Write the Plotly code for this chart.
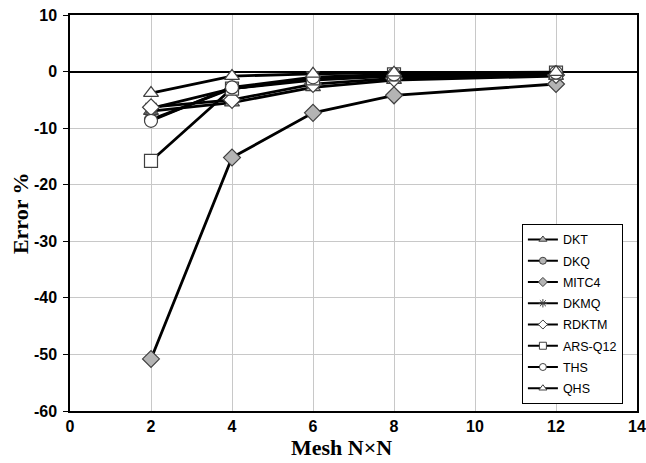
import plotly.graph_objects as go

mesh = [2, 4, 6, 8, 12]
series_names = ["DKT", "DKQ", "MITC4", "DKMQ", "RDKTM", "ARS-Q12", "THS", "QHS"]
dkt = [-7.0, -5.5, -2.8, -1.5, -0.8]
dkq = [-8.5, -3.0, -1.5, -0.8, -0.4]
mitc4 = [-50.8, -15.2, -7.3, -4.2, -2.2]
dkmq = [-6.5, -3.0, -1.3, -0.7, -0.3]
rdktm = [-6.3, -5.0, -2.2, -1.2, -0.6]
arsq12 = [-15.8, -3.0, -1.2, -0.5, -0.2]
ths = [-8.7, -2.8, -1.0, -0.5, -0.2]
qhs = [-3.8, -0.8, -0.4, -0.2, -0.1]
values = [dkt, dkq, mitc4, dkmq, rdktm, arsq12, ths, qhs]

x_ticks = [0, 2, 4, 6, 8, 10, 12, 14]
y_ticks = [10, 0, -10, -20, -30, -40, -50, -60]
x_labels = ["0", "2", "4", "6", "8", "10", "12", "14"]
y_labels = ["10", "0", "-10", "-20", "-30", "-40", "-50", "-60"]

GRAY = "#b4b4b4"
WHITE = "#ffffff"
EDGE = "#404040"
styles = [
    ("triangle-up", GRAY),
    ("circle", GRAY),
    ("diamond", GRAY),
    ("asterisk-open", EDGE),
    ("diamond", WHITE),
    ("square", WHITE),
    ("circle", WHITE),
    ("triangle-up", WHITE),
]

fig = go.Figure()
for i, (name, vals) in enumerate(zip(series_names, values)):
    sym, fill = styles[i]
    fig.add_trace(go.Scatter(
        x=mesh, y=vals, mode="lines+markers", name=name, showlegend=False,
        line=dict(color="black", width=2.8),
        marker=dict(symbol=sym, size=13, color=fill,
                    line=dict(color=EDGE, width=1.2)),
        cliponaxis=False,
    ))
for i, name in enumerate(series_names):
    sym, fill = styles[i]
    fig.add_trace(go.Scatter(
        x=[None], y=[None], mode="lines+markers", name=name,
        legendgroup=name, legendrank=i + 1,
        line=dict(color="black", width=2.2),
        marker=dict(symbol=sym, size=7, color=fill,
                    line=dict(color=EDGE, width=1)),
    ))

TICKFONT = dict(size=16, weight="bold", family="Liberation Sans, Arial", color="black")
TITLEFONT = dict(size=22, weight="bold", family="Liberation Serif, Times New Roman", color="black")

fig.update_layout(
    width=646, height=463,
    margin=dict(l=70, r=9, t=15, b=52),
    paper_bgcolor="white", plot_bgcolor="white",
    font=dict(family="Liberation Sans, Arial", color="black"),
    legend=dict(
        x=0.797, y=0.018, xanchor="left", yanchor="bottom",
        bgcolor="white", bordercolor="black", borderwidth=1,
        font=dict(size=12.5, family="Liberation Sans, Arial", color="black"),
        tracegroupgap=2, itemwidth=30,
    ),
    xaxis=dict(
        range=[0, 14], tickvals=x_ticks, ticktext=x_labels,
        showgrid=True, gridcolor="#c8c8c8", gridwidth=1,
        showline=True, linecolor="black", linewidth=1.5, mirror=True,
        ticks="", zeroline=False, automargin=False,
        tickfont=TICKFONT,
    ),
    yaxis=dict(
        range=[-60, 10], tickvals=y_ticks, ticktext=y_labels,
        showgrid=True, gridcolor="#c8c8c8", gridwidth=1,
        showline=True, linecolor="black", linewidth=1.5, mirror=True,
        ticks="outside", ticklen=5, tickcolor="black",
        zeroline=True, zerolinecolor="black", zerolinewidth=1.5,
        automargin=False, ticklabelstandoff=3,
        tickfont=TICKFONT,
    ),
    annotations=[
        dict(text="Mesh N×N", xref="paper", yref="paper", x=0.478, y=-0.091,
             xanchor="center", yanchor="middle", showarrow=False, font=TITLEFONT),
        dict(text="Error %", xref="paper", yref="paper", x=-0.088, y=0.5,
             xanchor="center", yanchor="middle", textangle=-90,
             showarrow=False, font=TITLEFONT),
    ],
)

# remove the browser's default 8px body margin so the figure sits at (0, 0)
fig.write_html("out.html",
               config={"displayModeBar": False},
               post_script="document.body.style.margin='0px';document.body.style.padding='0px';")
